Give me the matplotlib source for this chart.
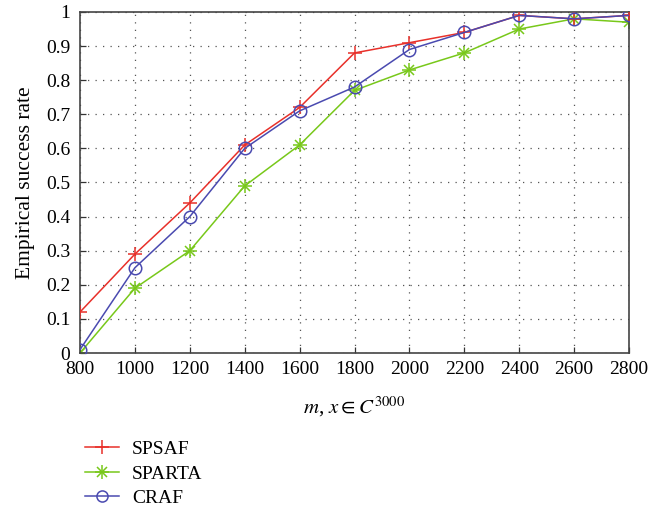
import matplotlib
matplotlib.use("Agg")
import matplotlib.pyplot as plt
from matplotlib.lines import Line2D

plt.rcParams['font.family'] = ['Liberation Serif', 'DejaVu Serif']
plt.rcParams['mathtext.fontset'] = 'stix'

m_values = [800, 1000, 1200, 1400, 1600, 1800, 2000, 2200, 2400, 2600, 2800]
spsaf = [0.12, 0.29, 0.44, 0.61, 0.72, 0.88, 0.91, 0.94, 0.99, 0.98, 0.99]
sparta = [0.00, 0.19, 0.30, 0.49, 0.61, 0.77, 0.83, 0.88, 0.95, 0.98, 0.97]
craf = [0.01, 0.25, 0.40, 0.60, 0.71, 0.78, 0.89, 0.94, 0.99, 0.98, 0.99]
y_ticks = [0, 0.1, 0.2, 0.3, 0.4, 0.5, 0.6, 0.7, 0.8, 0.9, 1]
y_tick_labels = ["0", "0.1", "0.2", "0.3", "0.4", "0.5", "0.6", "0.7", "0.8", "0.9", "1"]

red = "#e8302a"
green = "#78c81a"
blue = "#4a4ab0"

fig = plt.figure(figsize=(6.66, 5.11), dpi=100)
ax = fig.add_axes([80/666, 1-353/511, 549/666, 341/511])

ax.plot(m_values, spsaf, color=red, lw=1.1, marker='+', ms=9.5, mew=1.1, label='SPSAF', zorder=3)
ax.plot(m_values, sparta, color=green, lw=1.1, zorder=2)
# asterisk marker drawn as overlaid + and x
ax.plot(m_values, sparta, color=green, lw=0, marker='+', ms=9.5, mew=1.1, zorder=2)
ax.plot(m_values, sparta, color=green, lw=0, marker='x', ms=6.5, mew=1.1, zorder=2)
ax.plot(m_values, craf, color=blue, lw=1.1, marker='o', ms=9, mfc='none', mew=1.1, label='CRAF', zorder=4)

ax.set_xlim(800, 2800)
ax.set_ylim(0, 1)
ax.set_xticks(m_values)
ax.set_yticks(y_ticks)
ax.set_yticklabels(y_tick_labels)
ax.tick_params(direction='in', length=4, labelsize=14, color='#333333', width=0.9)
ax.tick_params(axis='y', pad=7)
ax.tick_params(axis='x', pad=6)
ax.grid(True, linestyle=(0, (1, 5)), color='#555555', lw=0.9)
for s in ax.spines.values():
    s.set_color('#444444')
    s.set_linewidth(1.2)

ax.set_ylabel('Empirical success rate', fontsize=15.5, labelpad=8)
ax.set_xlabel(r'$m$, $x\in C^{3000}$', fontsize=15, labelpad=12)

handles = [
    Line2D([], [], color=red, lw=1.1, marker='+', ms=10, mew=1.1),
    (Line2D([], [], color=green, lw=1.1, marker='+', ms=10, mew=1.1),
     Line2D([], [], color=green, lw=0, marker='x', ms=7, mew=1.1)),
    Line2D([], [], color=blue, lw=1.1, marker='o', ms=8, mfc='none', mew=1.1),
]
fig.legend(handles, ['SPSAF', 'SPARTA', 'CRAF'], loc='upper left',
           bbox_to_anchor=(67/666, 1-423/511), frameon=False, fontsize=14,
           handlelength=1.75, handletextpad=0.7, labelspacing=0.35)

fig.savefig('out.png', dpi=100)
